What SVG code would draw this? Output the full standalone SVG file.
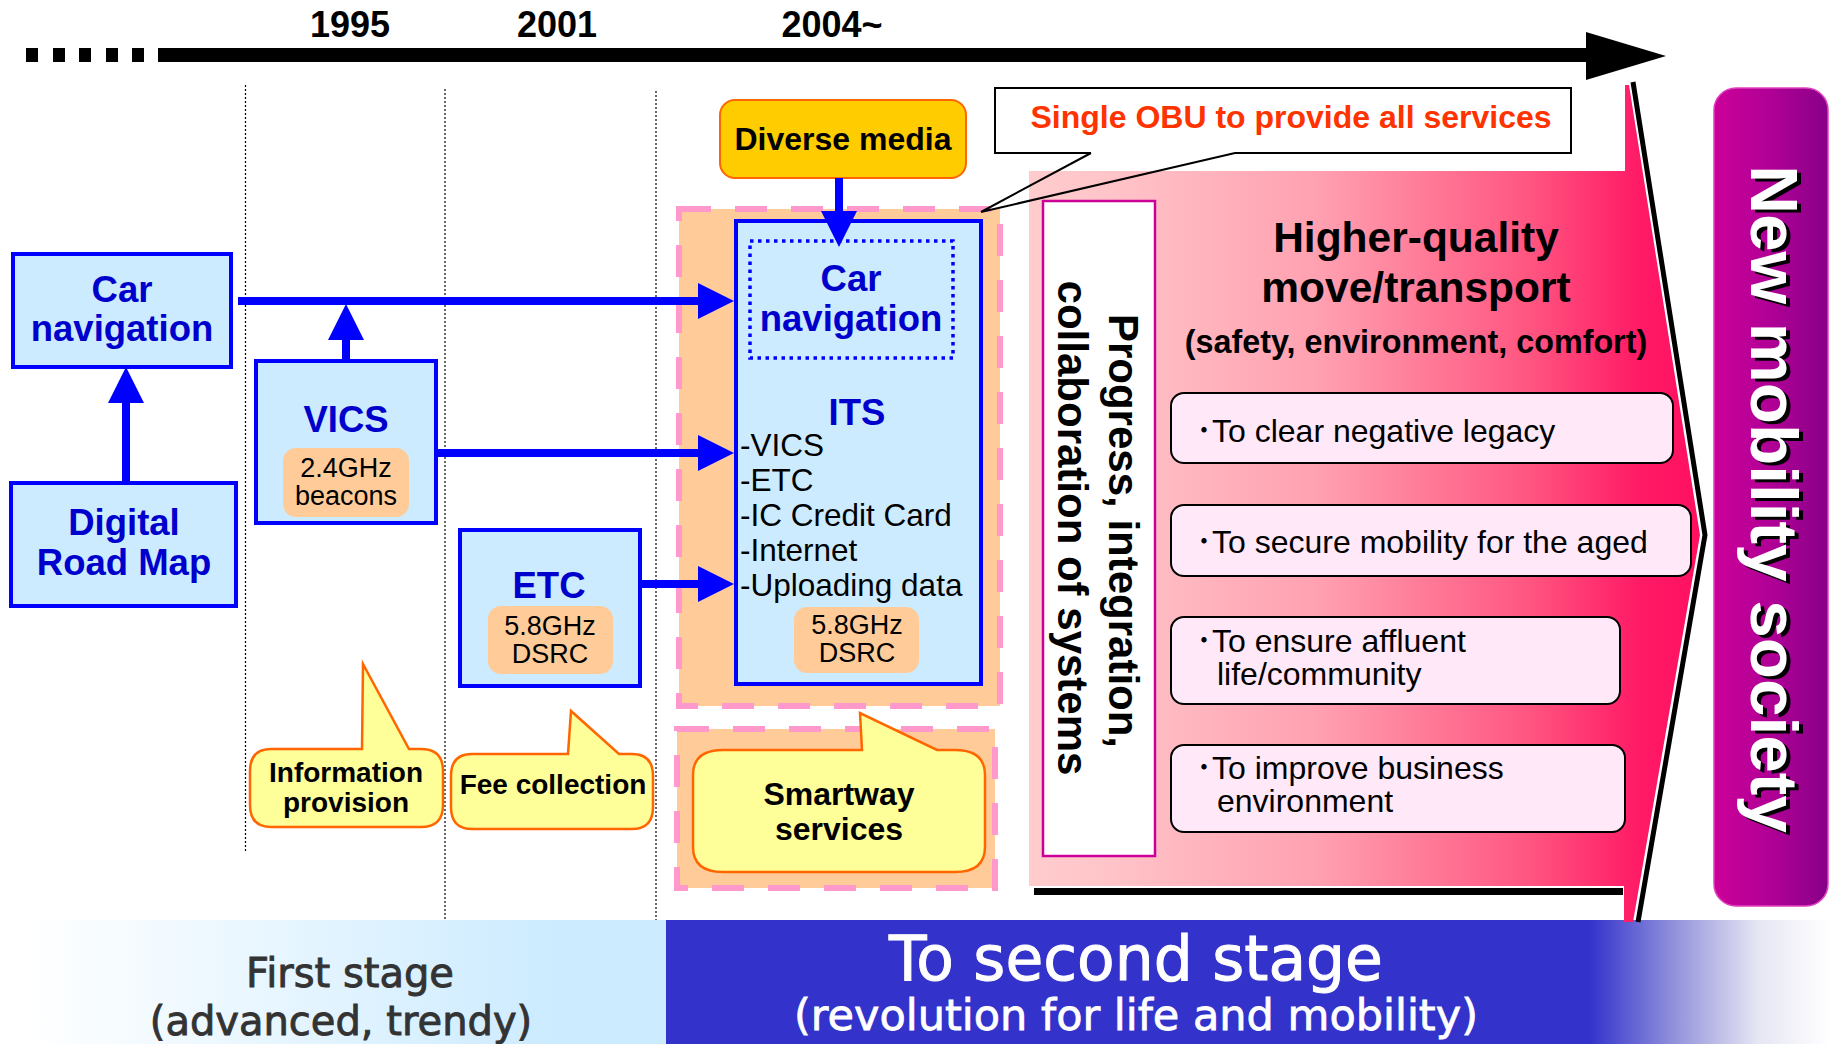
<svg xmlns="http://www.w3.org/2000/svg" width="1830" height="1044" viewBox="0 0 1830 1044">
<style>
  text { font-family: "Liberation Sans", Arial, sans-serif; }
  .year { font-size: 36px; font-weight: bold; fill: #000; text-anchor: middle; }
  .box { fill: #CCEBFF; stroke: #0000FF; stroke-width: 4; }
  .btitle { font-size: 36.5px; font-weight: bold; fill: #0000CC; text-anchor: middle; }
  .peach { fill: #FFCC99; }
  .freq { font-size: 27px; fill: #000; text-anchor: middle; }
  .cont { fill: #FFCC99; stroke: #FF99CC; stroke-width: 6; stroke-dasharray: 32 24; }
  .bubble { fill: #FFFF99; stroke: #FF6600; stroke-width: 2.5; }
  .btext { font-size: 28px; font-weight: bold; fill: #000; text-anchor: middle; }
  .btext-lg { font-size: 32px; font-weight: bold; fill: #000; text-anchor: middle; }
  .conn { stroke: #0000FF; stroke-width: 8; fill: none; }
  .vdot { stroke: #000; stroke-width: 1.2; stroke-dasharray: 2 2; }
  .goal { fill: #FFE8F8; stroke: #000; stroke-width: 2; }
  .gtext { font-family: "Liberation Sans", "Noto Sans CJK JP", sans-serif; font-size: 32px; fill: #000; }
  .its { font-size: 31.5px; fill: #000; }
  .band { font-family: "DejaVu Sans", sans-serif; text-anchor: middle; }
</style>
<defs>
  <marker id="ah" markerUnits="userSpaceOnUse" markerWidth="36" markerHeight="36" viewBox="0 0 36 36" refX="0" refY="18" orient="auto">
    <path d="M0,0 L36,18 L0,36 Z" fill="#0000FF"/>
  </marker>
  <linearGradient id="pinkGrad" gradientUnits="userSpaceOnUse" x1="1029" y1="0" x2="1700" y2="0">
    <stop offset="0" stop-color="#FFCCCC"/>
    <stop offset="0.1" stop-color="#FFC6CA"/>
    <stop offset="0.434" stop-color="#FFA0B0"/>
    <stop offset="0.747" stop-color="#FF5580"/>
    <stop offset="0.91" stop-color="#FF1A66"/>
    <stop offset="1" stop-color="#FF1060"/>
  </linearGradient>
  <linearGradient id="magGrad" x1="0" y1="0" x2="1" y2="0">
    <stop offset="0" stop-color="#CC0099"/>
    <stop offset="0.5" stop-color="#B00096"/>
    <stop offset="1" stop-color="#880088"/>
  </linearGradient>
  <linearGradient id="leftBand" gradientUnits="userSpaceOnUse" x1="25" y1="0" x2="560" y2="0">
    <stop offset="0" stop-color="#FFFFFF"/>
    <stop offset="1" stop-color="#CCEBFF"/>
  </linearGradient>
  <linearGradient id="rightBand" gradientUnits="userSpaceOnUse" x1="1590" y1="0" x2="1830" y2="0">
    <stop offset="0" stop-color="#3333CC"/>
    <stop offset="0.38" stop-color="#9999DD"/>
    <stop offset="0.7" stop-color="#E6E6F4"/>
    <stop offset="1" stop-color="#FFFFFF"/>
  </linearGradient>
</defs>

<rect x="0" y="0" width="1830" height="1044" fill="#FFFFFF"/>

<!-- timeline -->
<g id="timeline">
  <rect x="26" y="48" width="12" height="14" fill="#000"/>
  <rect x="53" y="48" width="12" height="14" fill="#000"/>
  <rect x="79" y="48" width="12" height="14" fill="#000"/>
  <rect x="106" y="48" width="12" height="14" fill="#000"/>
  <rect x="132" y="48" width="12" height="14" fill="#000"/>
  <rect x="158" y="48" width="1430" height="14" fill="#000"/>
  <polygon points="1586,32 1666,56 1586,80" fill="#000"/>
  <text class="year" x="350" y="37">1995</text>
  <text class="year" x="557" y="37">2001</text>
  <text class="year" x="832" y="37">2004~</text>
</g>

<!-- dotted era lines -->
<g id="era-lines">
  <line class="vdot" x1="245.5" y1="85" x2="245.5" y2="851"/>
  <line class="vdot" x1="445" y1="89" x2="445" y2="920"/>
  <line class="vdot" x1="656" y1="91" x2="656" y2="920"/>
</g>

<!-- bottom band -->
<g id="band">
  <rect x="0" y="920" width="666" height="124" fill="url(#leftBand)"/>
  <rect x="666" y="920" width="1164" height="124" fill="url(#rightBand)"/>
  <text class="band" x="350" y="987" font-size="40" fill="#333333" stroke="#333333" stroke-width="0.9">First stage</text>
  <text class="band" x="341" y="1035" font-size="40" fill="#333333" stroke="#333333" stroke-width="0.9">(advanced, trendy)</text>
  <text class="band" x="1136" y="980" font-size="61.5" fill="#FFFFFF" stroke="#FFFFFF" stroke-width="1">To second stage</text>
  <text class="band" x="1136" y="1030" font-size="43" fill="#FFFFFF" stroke="#FFFFFF" stroke-width="0.8">(revolution for life and mobility)</text>
</g>

<!-- big pink arrow -->
<g id="second-stage-arrow">
  <polygon points="1029,171 1625,171 1625,85 1629,85 1700,535 1633,922 1624,922 1624,886 1029,886" fill="url(#pinkGrad)"/>
  <polyline points="1633,82 1705,535 1638,922" fill="none" stroke="#000" stroke-width="5"/>
  <rect x="1034" y="888" width="589" height="7" fill="#000"/>
</g>

<!-- containers -->
<g id="its-container">
  <rect class="cont" x="679" y="209" width="321" height="497"/>
</g>
<g id="smartway-container">
  <rect class="cont" x="677" y="729" width="318" height="159"/>
</g>

<!-- left nodes -->
<g id="car-navigation">
  <rect class="box" x="13" y="254" width="218" height="113"/>
  <text class="btitle" x="122" y="302">Car</text>
  <text class="btitle" x="122" y="341">navigation</text>
</g>
<g id="digital-road-map">
  <rect class="box" x="11" y="483" width="225" height="123"/>
  <text class="btitle" x="124" y="535">Digital</text>
  <text class="btitle" x="124" y="575">Road Map</text>
</g>
<g id="vics">
  <rect class="box" x="256" y="361" width="180" height="162"/>
  <text class="btitle" x="346" y="432">VICS</text>
  <rect class="peach" x="283" y="448" width="126" height="69" rx="13"/>
  <text class="freq" x="346" y="477">2.4GHz</text>
  <text class="freq" x="346" y="505">beacons</text>
</g>
<g id="etc">
  <rect class="box" x="460" y="530" width="180" height="156"/>
  <text class="btitle" x="549" y="598">ETC</text>
  <rect class="peach" x="488" y="606" width="125" height="68" rx="13"/>
  <text class="freq" x="550" y="635">5.8GHz</text>
  <text class="freq" x="550" y="663">DSRC</text>
</g>

<!-- ITS node -->
<g id="its">
  <rect class="box" x="736" y="221" width="245" height="463" stroke-width="5"/>
  <rect x="750" y="241" width="203" height="117" fill="none" stroke="#0000FF" stroke-width="3.5" stroke-dasharray="3.5 4.5"/>
  <text class="btitle" x="851" y="291">Car</text>
  <text class="btitle" x="851" y="331">navigation</text>
  <text class="btitle" x="857" y="425">ITS</text>
  <text class="its" x="740" y="456">-VICS</text>
  <text class="its" x="740" y="491">-ETC</text>
  <text class="its" x="740" y="526">-IC Credit Card</text>
  <text class="its" x="740" y="561">-Internet</text>
  <text class="its" x="740" y="596">-Uploading data</text>
  <rect class="peach" x="794" y="607" width="125" height="66" rx="13"/>
  <text class="freq" x="857" y="634">5.8GHz</text>
  <text class="freq" x="857" y="662">DSRC</text>
</g>

<g id="diverse-media">
  <rect x="720" y="100" width="246" height="78" rx="15" fill="#FFCC00" stroke="#FF6600" stroke-width="2"/>
  <text x="843" y="150" font-size="32" font-weight="bold" fill="#000" text-anchor="middle">Diverse media</text>
</g>

<!-- connectors -->
<g id="connectors">
  <line class="conn" x1="126" y1="482" x2="126" y2="403" marker-end="url(#ah)"/>
  <line class="conn" x1="238" y1="301" x2="698" y2="301" marker-end="url(#ah)"/>
  <line class="conn" x1="346" y1="361" x2="346" y2="340" marker-end="url(#ah)"/>
  <line class="conn" x1="436" y1="453" x2="698" y2="453" marker-end="url(#ah)"/>
  <line class="conn" x1="640" y1="584" x2="698" y2="584" marker-end="url(#ah)"/>
  <line class="conn" x1="839" y1="178" x2="839" y2="211" marker-end="url(#ah)"/>
</g>

<!-- callouts -->
<g id="information-provision">
  <path class="bubble" d="M271,749 H362 L363,664 L409,749 H421 Q443,749 443,771 V805 Q443,827 421,827 H271 Q250,827 250,805 V771 Q250,749 271,749 Z"/>
  <text class="btext" x="346" y="782">Information</text>
  <text class="btext" x="346" y="812">provision</text>
</g>
<g id="fee-collection">
  <path class="bubble" d="M472,754 H568 L571,711 L619,754 H632 Q653,754 653,776 V807 Q653,829 632,829 H472 Q451,829 451,807 V776 Q451,754 472,754 Z"/>
  <text class="btext" x="553" y="794">Fee collection</text>
</g>
<g id="smartway-services">
  <path class="bubble" d="M723,750 H862 L860,713 L937,750 H955 Q985,750 985,775 V847 Q985,872 955,872 H723 Q693,872 693,847 V775 Q693,750 723,750 Z"/>
  <text class="btext-lg" x="839" y="805">Smartway</text>
  <text class="btext-lg" x="839" y="840">services</text>
</g>

<g id="single-obu">
  <rect x="995" y="88" width="576" height="65" fill="#FFFFFF"/>
  <path d="M1091,153 H995 V88 H1571 V153 H1235 L981,212 L1091,153" fill="none" stroke="#000" stroke-width="2"/>
  <text x="1291" y="128" font-size="32" font-weight="bold" fill="#FF3300" text-anchor="middle">Single OBU to provide all services</text>
</g>

<g id="progress">
  <rect x="1043" y="201" width="112" height="655" fill="#FFFFFF" stroke="#CC0099" stroke-width="2.5"/>
  <text transform="translate(1109,531) rotate(90)" font-size="42" font-weight="bold" fill="#000" text-anchor="middle">Progress, integration,</text>
  <text transform="translate(1058,528) rotate(90)" font-size="42" font-weight="bold" fill="#000" text-anchor="middle">collaboration of systems</text>
</g>

<g id="higher-quality">
  <text x="1416" y="252" font-size="42.5" font-weight="bold" fill="#000" text-anchor="middle">Higher-quality</text>
  <text x="1416" y="302" font-size="42.5" font-weight="bold" fill="#000" text-anchor="middle">move/transport</text>
  <text x="1416" y="353" font-size="32.3" font-weight="bold" fill="#000" text-anchor="middle">(safety, environment, comfort)</text>
</g>

<g id="goal-1">
  <rect class="goal" x="1171" y="393" width="502" height="70" rx="13"/>
  <text class="gtext" x="1196" y="442">･To clear negative legacy</text>
</g>
<g id="goal-2">
  <rect class="goal" x="1171" y="505" width="520" height="71" rx="13"/>
  <text class="gtext" x="1196" y="553">･To secure mobility for the aged</text>
</g>
<g id="goal-3">
  <rect class="goal" x="1171" y="617" width="449" height="87" rx="13"/>
  <text class="gtext" x="1196" y="652">･To ensure affluent</text>
  <text class="gtext" x="1217" y="685">life/community</text>
</g>
<g id="goal-4">
  <rect class="goal" x="1171" y="745" width="454" height="87" rx="13"/>
  <text class="gtext" x="1196" y="779">･To improve business</text>
  <text class="gtext" x="1217" y="812">environment</text>
</g>

<g id="new-mobility-society">
  <rect x="1714" y="88" width="114" height="818" rx="22" fill="url(#magGrad)" stroke="#E040C0" stroke-width="1.5"/>
  <text transform="translate(1755,502) rotate(90)" font-size="67.5" font-weight="bold" fill="#000" text-anchor="middle">New mobility society</text>
  <text transform="translate(1751,499) rotate(90)" font-size="67.5" font-weight="bold" fill="#FFFFFF" text-anchor="middle">New mobility society</text>
</g>
</svg>
